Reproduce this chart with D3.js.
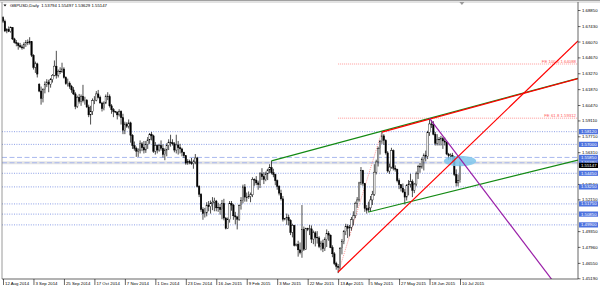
<!DOCTYPE html>
<html>
<head>
<meta charset="utf-8">
<script src="https://cdn.jsdelivr.net/npm/d3@7"></script>
<style>
  body { margin: 0; background: #fff; }
  svg { display: block; font-family: "Liberation Sans", Arial, sans-serif; }
</style>
</head>
<body>
<div id="chart"></div>
<script>
// GBPUSD daily bars, 12 Aug 2014 .. 10 Jul 2015 (one row = 16 bars)
const opens = [
  1.6820,1.6785,1.6700,1.6712,1.6695,1.6730,1.6630,1.6600,1.6590,1.6570,1.6560,1.6550,1.6580,1.6600,1.6595,1.6605,
  1.6485,1.6380,1.6410,1.6230,1.6170,1.6105,1.6185,1.6230,1.6250,1.6230,1.6270,1.6310,1.6390,1.6310,1.6345,1.6340,
  1.6365,1.6290,1.6235,1.6240,1.6210,1.6180,1.6145,1.6035,1.6115,1.6080,1.6125,1.6085,1.6090,1.6030,1.5960,1.5990,
  1.6085,1.6090,1.6145,1.6115,1.6065,1.6015,1.6065,1.6125,1.6120,1.6040,1.6005,1.5990,1.5985,1.5960,1.5990,1.5935,
  1.5825,1.5880,1.5860,1.5890,1.5780,1.5690,1.5665,1.5640,1.5650,1.5705,1.5670,1.5650,1.5700,1.5740,1.5790,1.5775,
  1.5640,1.5690,1.5650,1.5690,1.5665,1.5610,1.5650,1.5690,1.5720,1.5715,1.5705,1.5650,1.5695,1.5670,1.5660,1.5630,
  1.5600,1.5535,1.5550,1.5540,1.5530,1.5545,1.5580,1.5330,1.5260,1.5125,1.5090,1.5095,1.5165,1.5150,1.5180,1.5190,
  1.5200,1.5140,1.5145,1.5125,1.5180,1.5050,1.4960,1.5035,1.5180,1.5165,1.5070,1.5060,1.5040,1.5160,1.5205,1.5325,
  1.5235,1.5230,1.5240,1.5255,1.5390,1.5385,1.5360,1.5345,1.5440,1.5415,1.5390,1.5440,1.5475,1.5495,1.5450,1.5435,
  1.5380,1.5330,1.5270,1.5220,1.5040,1.5045,1.5055,1.5030,1.4925,1.4985,1.4810,1.4820,1.4770,1.4745,1.4950,1.4775,
  1.4960,1.4950,1.4955,1.4865,1.4920,1.4880,1.4875,1.4800,1.4830,1.4780,1.4860,1.4915,1.4900,1.4790,1.4735,1.4650,
  1.4625,1.4615,1.4780,1.4845,1.4930,1.4975,1.4960,1.4970,1.5035,1.5070,1.5180,1.5210,1.5360,1.5470,1.5355,1.5135,
  1.5120,1.5140,1.5210,1.5260,1.5455,1.5545,1.5665,1.5725,1.5775,1.5735,1.5625,1.5465,1.5500,1.5645,1.5490,1.5480,
  1.5380,1.5345,1.5315,1.5280,1.5235,1.5335,1.5350,1.5370,1.5295,1.5350,1.5440,1.5505,1.5500,1.5565,1.5605,1.5595,
  1.5805,1.5880,1.5875,1.5790,1.5710,1.5740,1.5745,1.5750,1.5730,1.5720,1.5615,1.5600,1.5605,1.5590,1.5435,1.5360,
  1.53794
];
const highs = [
  1.6830,1.6800,1.6725,1.6740,1.6740,1.6735,1.6640,1.6620,1.6600,1.6595,1.6580,1.6600,1.6620,1.6625,1.6645,1.6610,
  1.6495,1.6430,1.6420,1.6240,1.6210,1.6195,1.6255,1.6275,1.6270,1.6285,1.6320,1.6440,1.6525,1.6360,1.6380,1.6420,
  1.6380,1.6300,1.6280,1.6255,1.6225,1.6205,1.6160,1.6130,1.6145,1.6140,1.6225,1.6120,1.6100,1.6050,1.6040,1.6105,
  1.6125,1.6170,1.6180,1.6130,1.6075,1.6080,1.6140,1.6160,1.6140,1.6055,1.6020,1.5995,1.5990,1.6010,1.6000,1.5970,
  1.5900,1.5895,1.5920,1.5900,1.5790,1.5725,1.5680,1.5665,1.5735,1.5720,1.5730,1.5730,1.5765,1.5800,1.5810,1.5785,
  1.5720,1.5700,1.5705,1.5735,1.5700,1.5665,1.5710,1.5745,1.5785,1.5745,1.5720,1.5785,1.5730,1.5705,1.5670,1.5635,
  1.5605,1.5570,1.5565,1.5580,1.5565,1.5615,1.5590,1.5340,1.5270,1.5145,1.5140,1.5190,1.5200,1.5205,1.5235,1.5230,
  1.5210,1.5185,1.5175,1.5210,1.5220,1.5060,1.5055,1.5200,1.5200,1.5175,1.5105,1.5070,1.5170,1.5235,1.5345,1.5350,
  1.5275,1.5285,1.5275,1.5410,1.5400,1.5420,1.5380,1.5455,1.5490,1.5455,1.5460,1.5485,1.5525,1.5555,1.5485,1.5440,
  1.5390,1.5340,1.5300,1.5245,1.5050,1.5090,1.5080,1.5040,1.5000,1.4990,1.4825,1.4850,1.4835,1.5165,1.4975,1.4965,
  1.4965,1.4990,1.4985,1.4940,1.4935,1.4935,1.4890,1.4850,1.4860,1.4880,1.4950,1.4935,1.4905,1.4810,1.4750,1.4665,
  1.4645,1.4795,1.4865,1.4945,1.5000,1.4995,1.4990,1.5060,1.5110,1.5195,1.5235,1.5370,1.5500,1.5475,1.5360,1.5165,
  1.5195,1.5245,1.5290,1.5525,1.5565,1.5680,1.5740,1.5815,1.5790,1.5745,1.5640,1.5530,1.5670,1.5655,1.5515,1.5485,
  1.5400,1.5350,1.5355,1.5305,1.5350,1.5385,1.5440,1.5390,1.5360,1.5460,1.5520,1.5535,1.5585,1.5620,1.5645,1.5820,
  1.5930,1.5915,1.5905,1.5810,1.5790,1.5765,1.5775,1.5765,1.5760,1.5725,1.5625,1.5620,1.5625,1.5595,1.5480,1.5435,
  1.55497
];
const lows = [
  1.6770,1.6690,1.6680,1.6690,1.6685,1.6620,1.6590,1.6565,1.6535,1.6550,1.6535,1.6540,1.6560,1.6575,1.6580,1.6470,
  1.6360,1.6330,1.6290,1.6160,1.6050,1.6070,1.6150,1.6205,1.6160,1.6200,1.6245,1.6300,1.6280,1.6290,1.6320,1.6330,
  1.6280,1.6225,1.6210,1.6190,1.6155,1.6135,1.6010,1.6020,1.6060,1.6040,1.6070,1.6050,1.6020,1.5940,1.5875,1.5960,
  1.6055,1.6080,1.6105,1.6060,1.5990,1.6000,1.6055,1.6090,1.6025,1.5970,1.5940,1.5975,1.5920,1.5945,1.5875,1.5790,
  1.5790,1.5845,1.5840,1.5715,1.5660,1.5645,1.5590,1.5590,1.5620,1.5640,1.5620,1.5625,1.5660,1.5705,1.5735,1.5625,
  1.5610,1.5620,1.5635,1.5645,1.5585,1.5560,1.5595,1.5650,1.5680,1.5690,1.5630,1.5620,1.5610,1.5620,1.5595,1.5580,
  1.5520,1.5520,1.5525,1.5520,1.5485,1.5525,1.5320,1.5235,1.5105,1.5035,1.5055,1.5065,1.5110,1.5090,1.5120,1.5110,
  1.5110,1.5105,1.5080,1.5040,1.5030,1.4950,1.4955,1.5010,1.5115,1.5035,1.4995,1.4950,1.5025,1.5125,1.5180,1.5195,
  1.5195,1.5220,1.5190,1.5235,1.5335,1.5340,1.5300,1.5315,1.5385,1.5350,1.5375,1.5385,1.5445,1.5435,1.5410,1.5340,
  1.5300,1.5250,1.5205,1.5020,1.5030,1.4990,1.4985,1.4900,1.4880,1.4800,1.4800,1.4710,1.4730,1.4700,1.4760,1.4770,
  1.4935,1.4900,1.4830,1.4820,1.4800,1.4825,1.4785,1.4765,1.4750,1.4760,1.4795,1.4850,1.4785,1.4705,1.4635,1.4595,
  1.4565,1.4595,1.4730,1.4820,1.4900,1.4875,1.4890,1.4940,1.4985,1.5050,1.5140,1.5195,1.5340,1.5335,1.5105,1.5090,
  1.5100,1.5105,1.5165,1.5245,1.5435,1.5505,1.5610,1.5705,1.5695,1.5610,1.5450,1.5440,1.5485,1.5470,1.5460,1.5365,
  1.5305,1.5285,1.5270,1.5170,1.5205,1.5250,1.5320,1.5235,1.5270,1.5330,1.5395,1.5450,1.5485,1.5470,1.5550,1.5570,
  1.5775,1.5845,1.5780,1.5690,1.5690,1.5690,1.5690,1.5660,1.5690,1.5605,1.5565,1.5565,1.5535,1.5420,1.5330,1.5330,
  1.53629
];
const closes = [
  1.6785,1.6700,1.6712,1.6695,1.6730,1.6630,1.6600,1.6590,1.6570,1.6560,1.6550,1.6580,1.6600,1.6595,1.6605,1.6485,
  1.6380,1.6410,1.6320,1.6170,1.6105,1.6185,1.6230,1.6250,1.6230,1.6270,1.6310,1.6390,1.6310,1.6345,1.6340,1.6365,
  1.6290,1.6235,1.6240,1.6210,1.6180,1.6145,1.6035,1.6115,1.6080,1.6125,1.6085,1.6090,1.6030,1.5960,1.5990,1.6085,
  1.6090,1.6145,1.6115,1.6065,1.6015,1.6065,1.6125,1.6120,1.6040,1.6005,1.5990,1.5985,1.5960,1.5990,1.5935,1.5825,
  1.5880,1.5860,1.5890,1.5780,1.5690,1.5665,1.5640,1.5650,1.5705,1.5670,1.5650,1.5700,1.5740,1.5790,1.5775,1.5640,
  1.5690,1.5650,1.5690,1.5665,1.5610,1.5650,1.5690,1.5720,1.5715,1.5705,1.5650,1.5695,1.5670,1.5660,1.5630,1.5600,
  1.5535,1.5550,1.5540,1.5530,1.5545,1.5580,1.5330,1.5260,1.5125,1.5090,1.5095,1.5165,1.5150,1.5180,1.5190,1.5200,
  1.5140,1.5145,1.5125,1.5180,1.5050,1.4960,1.5035,1.5180,1.5165,1.5070,1.5060,1.5040,1.5160,1.5205,1.5325,1.5235,
  1.5230,1.5240,1.5255,1.5390,1.5385,1.5360,1.5345,1.5440,1.5415,1.5390,1.5440,1.5475,1.5495,1.5450,1.5435,1.5380,
  1.5330,1.5270,1.5220,1.5040,1.5045,1.5055,1.5030,1.4925,1.4985,1.4810,1.4820,1.4770,1.4745,1.4950,1.4775,1.4960,
  1.4950,1.4955,1.4865,1.4920,1.4880,1.4875,1.4800,1.4830,1.4780,1.4860,1.4915,1.4900,1.4790,1.4735,1.4650,1.4625,
  1.4615,1.4780,1.4845,1.4930,1.4975,1.4960,1.4970,1.5035,1.5070,1.5180,1.5210,1.5360,1.5470,1.5355,1.5135,1.5120,
  1.5140,1.5210,1.5260,1.5455,1.5545,1.5665,1.5725,1.5775,1.5735,1.5625,1.5465,1.5500,1.5645,1.5490,1.5480,1.5380,
  1.5345,1.5315,1.5280,1.5235,1.5335,1.5350,1.5370,1.5295,1.5350,1.5440,1.5505,1.5500,1.5565,1.5605,1.5595,1.5805,
  1.5880,1.5875,1.5790,1.5710,1.5740,1.5745,1.5750,1.5730,1.5720,1.5615,1.5600,1.5605,1.5590,1.5435,1.5360,1.5380,
  1.55147
];

// time axis labels and the bar they sit on
const dateLabels = ["12 Aug 2014","3 Sep 2014","25 Sep 2014","17 Oct 2014","7 Nov 2014","1 Dec 2014","23 Dec 2014",
  "16 Jan 2015","9 Feb 2015","3 Mar 2015","22 Mar 2015","13 Apr 2015","5 May 2015","27 May 2015","18 Jun 2015","10 Jul 2015"];
const dateBars = [0,16,32,48,64,80,96,112,128,144,160,176,192,208,224,240];

// price scale labels (1.54910 and 1.50750 sit under the level tags, so they are not shown)
const priceTicks = [1.68850,1.67430,1.66070,1.64670,1.63270,1.61870,1.60470,1.59110,1.57710,1.56310,
  1.53510,1.52150,1.49350,1.47960,1.46550,1.45190];

// horizontal levels drawn on the chart
const dottedLevels = [1.58120, 1.57000, 1.54450, 1.53250, 1.51750, 1.50850, 1.49900];
const dashedLevels = [1.55850, 1.55380];
const lastPrice = 1.55147;

// fibo expansion
const feNames = ["FE 61.8", "FE 100.0"];
const fePrices = [1.59312, 1.64088];
const feBase = [176, 1.4565, 199, 1.5815];

// trend lines: [bar1, price1, bar2, price2]
const greenUpper = [141, 1.5555, 224, 1.5930];
const redUpper = [199, 1.5808, 302, 1.6281];
const redSteep = [176, 1.4575, 302, 1.6612];
const greenLower = [192, 1.5104, 302, 1.5562];
const purpleDown = [224, 1.5930, 288, 1.4513];

// highlighted zone (ellipse): centre bar, centre price, half width in bars, half height in price
const zone = [240, 1.5553, 8.5, 0.0046];

const header = "GBPUSD,Daily  1.53794 1.55497 1.53629 1.55147";

/* ---------- drawing ---------- */
const W = 600, H = 289;
const plot = {left: 2, right: 578, top: 2, bottom: 279};
const fontSize = 4.3;

const x = d3.scaleLinear().domain([0, 240]).range([3, 460]);
const y = d3.scaleLinear().domain([1.45190, 1.68850]).range([278.3, 10]);
const rightBar = x.invert(plot.right);

const svg = d3.select("#chart").append("svg")
    .attr("width", W)
    .attr("height", H);

svg.append("defs").append("clipPath").attr("id", "clip")
    .append("rect")
    .attr("x", plot.left).attr("y", plot.top)
    .attr("width", plot.right - plot.left)
    .attr("height", plot.bottom - plot.top);

const area = svg.append("g").attr("clip-path", "url(#clip)");

// horizontal levels
area.selectAll(".dotted").data(dottedLevels).enter().append("line")
    .attr("x1", plot.left).attr("x2", plot.right)
    .attr("y1", d => y(d)).attr("y2", d => y(d))
    .attr("stroke", "#6f86e0").attr("stroke-width", 0.8)
    .attr("stroke-dasharray", "1,1.4");

area.append("line")
    .attr("x1", plot.left).attr("x2", plot.right)
    .attr("y1", y(dashedLevels[1])).attr("y2", y(dashedLevels[1]))
    .attr("stroke", "#e4e4e4").attr("stroke-width", 3);

area.selectAll(".dashed").data(dashedLevels).enter().append("line")
    .attr("x1", plot.left).attr("x2", plot.right)
    .attr("y1", d => y(d)).attr("y2", d => y(d))
    .attr("stroke", "#a9b8ee").attr("stroke-width", 1)
    .attr("stroke-dasharray", "5,2.5");

// FE levels
area.selectAll(".fe").data(fePrices).enter().append("line")
    .attr("x1", x(feBase[0])).attr("x2", plot.right)
    .attr("y1", d => y(d)).attr("y2", d => y(d))
    .attr("stroke", "#ff8080").attr("stroke-width", 0.8)
    .attr("stroke-dasharray", "1,1");

area.append("line")
    .attr("x1", x(feBase[0])).attr("y1", y(feBase[1]))
    .attr("x2", x(feBase[2])).attr("y2", y(feBase[3]))
    .attr("stroke", "#ff8080").attr("stroke-width", 0.8)
    .attr("stroke-dasharray", "1,1");

area.selectAll(".felabel").data(fePrices).enter().append("text")
    .attr("x", plot.right - 2).attr("y", d => y(d) - 1.2)
    .attr("text-anchor", "end")
    .attr("font-size", fontSize)
    .attr("fill", "#ff5a5a")
    .text((d, i) => feNames[i] + "  " + d.toFixed(5));

// candles
const bars = closes.map((c, i) => ({i: i, o: opens[i], h: highs[i], l: lows[i], c: c}));

area.selectAll(".wick").data(bars).enter().append("line")
    .attr("x1", d => x(d.i)).attr("x2", d => x(d.i))
    .attr("y1", d => y(d.h)).attr("y2", d => y(d.l))
    .attr("stroke", "#000").attr("stroke-width", 0.7);

area.selectAll(".body").data(bars).enter().append("rect")
    .attr("x", d => x(d.i) - 0.75)
    .attr("width", 1.5)
    .attr("y", d => y(Math.max(d.o, d.c)))
    .attr("height", d => Math.max(0.4, Math.abs(y(d.o) - y(d.c))))
    .attr("fill", d => d.c >= d.o ? "#fff" : "#000")
    .attr("stroke", "#000").attr("stroke-width", 0.4);

// zone ellipse
area.append("ellipse")
    .attr("cx", x(zone[0])).attr("cy", y(zone[1]))
    .attr("rx", x(zone[0] + zone[2]) - x(zone[0]))
    .attr("ry", y(zone[1] - zone[3]) - y(zone[1]))
    .attr("fill", "#7fc6ec").attr("opacity", 0.85);

// trend lines, extended to the right edge
function ray(t, color, w) {
    const slope = (t[3] - t[1]) / (t[2] - t[0]);
    area.append("line")
        .attr("x1", x(t[0])).attr("y1", y(t[1]))
        .attr("x2", x(rightBar)).attr("y2", y(t[1] + slope * (rightBar - t[0])))
        .attr("stroke", color).attr("stroke-width", w);
}
ray(greenUpper, "#138a13", 1.2);
ray(redUpper, "#ff0000", 1.2);
ray(greenLower, "#138a13", 1.2);
ray(redSteep, "#ff0000", 1.2);
ray(purpleDown, "#9a1fa8", 1.2);

// frame
svg.append("line").attr("x1", 0).attr("x2", W).attr("y1", 0.5).attr("y2", 0.5)
    .attr("stroke", "#a0a0a0").attr("stroke-width", 1);
svg.append("line").attr("x1", 0).attr("x2", W).attr("y1", 2).attr("y2", 2)
    .attr("stroke", "#b8b8b8").attr("stroke-width", 0.8);
svg.append("line").attr("x1", plot.left).attr("x2", plot.left).attr("y1", plot.top).attr("y2", plot.bottom)
    .attr("stroke", "#808080").attr("stroke-width", 0.8);
svg.append("line").attr("x1", plot.left).attr("x2", plot.right).attr("y1", plot.bottom).attr("y2", plot.bottom)
    .attr("stroke", "#404040").attr("stroke-width", 0.8);
svg.append("line").attr("x1", plot.right).attr("x2", plot.right).attr("y1", plot.top).attr("y2", plot.bottom)
    .attr("stroke", "#404040").attr("stroke-width", 0.8);

// chart shift marker
svg.append("path")
    .attr("d", `M${x(241) - 2.5},2 L${x(241) + 2.5},2 L${x(241)},5 Z`)
    .attr("fill", "#9a9a9a");

// header
svg.append("path").attr("d", "M3.5,4.5 L6.5,4.5 L5,6.5 Z").attr("fill", "#000");
svg.append("text")
    .attr("x", 10).attr("y", 7.3)
    .attr("font-size", fontSize)
    .attr("fill", "#000")
    .attr("xml:space", "preserve")
    .text(header);

// price axis
const yAxis = d3.axisRight(y).tickValues(priceTicks).tickSize(2.5).tickFormat(d3.format(".5f"));
const gy = svg.append("g").attr("transform", `translate(${plot.right},0)`).call(yAxis);
gy.select(".domain").remove();
gy.selectAll("line").attr("stroke", "#000").attr("stroke-width", 0.6);
gy.selectAll("text")
    .attr("x", 4).attr("dy", "0.35em")
    .attr("font-size", fontSize)
    .attr("font-family", "Liberation Sans, Arial, sans-serif")
    .attr("fill", "#000");

// highlighted level labels on the price scale
const levelLabels = dottedLevels.concat(dashedLevels);
const tag = svg.append("g");
tag.selectAll("rect").data(levelLabels).enter().append("rect")
    .attr("x", plot.right + 1).attr("y", d => y(d) - 2.6)
    .attr("width", 19).attr("height", 5.2)
    .attr("fill", "#4d72de");
tag.selectAll("text").data(levelLabels).enter().append("text")
    .attr("x", plot.right + 3).attr("y", d => y(d)).attr("dy", "0.35em")
    .attr("font-size", fontSize).attr("fill", "#fff")
    .text(d => d.toFixed(5));

tag.append("rect")
    .attr("x", plot.right + 1).attr("y", y(lastPrice) - 2.6)
    .attr("width", 19).attr("height", 5.2)
    .attr("fill", "#000");
tag.append("text")
    .attr("x", plot.right + 3).attr("y", y(lastPrice)).attr("dy", "0.35em")
    .attr("font-size", fontSize).attr("fill", "#fff")
    .text(lastPrice.toFixed(5));

// time axis
const xAxis = d3.axisBottom(x).tickValues(dateBars).tickSize(6).tickFormat((d, i) => dateLabels[i]);
const gx = svg.append("g").attr("transform", `translate(0,${plot.bottom})`).call(xAxis);
gx.select(".domain").remove();
gx.selectAll("line").attr("stroke", "#000").attr("stroke-width", 0.6);
gx.selectAll("text")
    .attr("text-anchor", "start")
    .attr("x", 1.5).attr("y", 2.6)
    .attr("font-size", fontSize)
    .attr("font-family", "Liberation Sans, Arial, sans-serif")
    .attr("fill", "#000");
</script>
</body>
</html>
